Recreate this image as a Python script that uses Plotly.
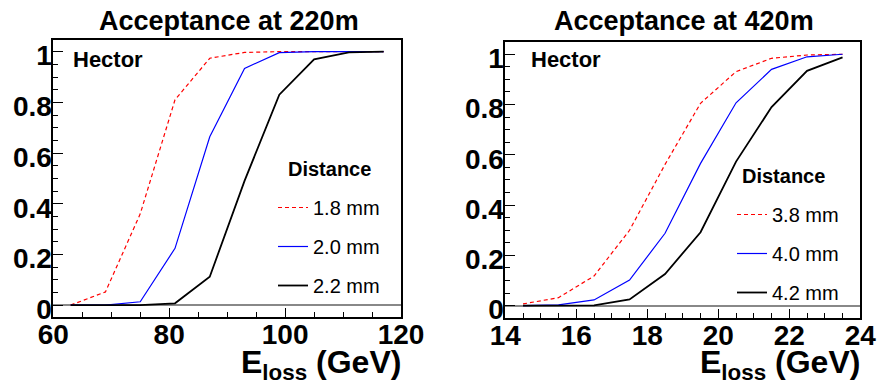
import plotly.graph_objects as go

W, H = 877, 383

# ---- data ----
e220 = [63, 69, 75, 81, 87, 93, 99, 105, 111, 117]
acc220_18 = [0.0, 0.052, 0.36, 0.81, 0.974, 0.997, 1.0, 1.0, 1.0, 1.0]
acc220_20 = [0.0, 0.0, 0.013, 0.224, 0.664, 0.934, 0.996, 1.0, 1.0, 1.0]
acc220_22 = [0.0, 0.0, 0.0, 0.007, 0.112, 0.49, 0.83, 0.97, 0.997, 1.0]

e420 = [14.5, 15.5, 16.5, 17.5, 18.5, 19.5, 20.5, 21.5, 22.5, 23.5]
acc420_38 = [0.007, 0.032, 0.118, 0.30, 0.562, 0.805, 0.931, 0.984, 0.997, 1.0]
acc420_40 = [0.0, 0.003, 0.023, 0.102, 0.288, 0.566, 0.807, 0.94, 0.99, 1.0]
acc420_42 = [0.0, 0.0, 0.001, 0.025, 0.126, 0.292, 0.573, 0.79, 0.934, 0.988]

labels220 = ["1.8 mm", "2.0 mm", "2.2 mm"]
labels420 = ["3.8 mm", "4.0 mm", "4.2 mm"]
titles = ["Acceptance at 220m", "Acceptance at 420m"]

FONT = "Liberation Sans"
styles = [dict(color="#ff0000", width=1.2, dash="4px,3px"),
          dict(color="#0000ff", width=1.2),
          dict(color="#000000", width=1.8)]

def px(x):
    return x / W

def py(y):
    return 1 - y / H

fig = go.Figure()

for i, (ys, lab) in enumerate(zip([acc220_18, acc220_20, acc220_22], labels220)):
    fig.add_trace(go.Scatter(x=e220, y=ys, mode="lines", name=lab, line=styles[i],
                             xaxis="x", yaxis="y", legend="legend",
                             legendgroup="a%d" % i))
for i, (ys, lab) in enumerate(zip([acc420_38, acc420_40, acc420_42], labels420)):
    fig.add_trace(go.Scatter(x=e420, y=ys, mode="lines", name=lab, line=styles[i],
                             xaxis="x2", yaxis="y2", legend="legend2",
                             legendgroup="b%d" % i))

tickfont = dict(family=FONT, size=28, color="black", weight="bold")

def xax(domain, rng, dtick, minor):
    return dict(domain=domain, range=rng, dtick=dtick, tick0=0, showline=True, mirror=True,
                linecolor="black", linewidth=1.5, ticks="inside", ticklen=9, tickwidth=1,
                tickcolor="black", showgrid=False, zeroline=False, tickfont=tickfont,
                automargin=False, ticklabelstandoff=-8,
                minor=dict(dtick=minor, ticks="inside", ticklen=5, tickcolor="black", showgrid=False))

def yax(domain, rng, anchor):
    return dict(domain=domain, range=rng, dtick=0.2, tick0=0, showline=True, mirror=True,
                linecolor="black", linewidth=1.5, ticks="inside", ticklen=10, tickwidth=1,
                tickcolor="black", showgrid=False, zeroline=True, zerolinecolor="#888888",
                zerolinewidth=1.5, tickfont=tickfont, anchor=anchor, automargin=False,
                ticklabelstandoff=-6, ticklabelshift=4,
                minor=dict(dtick=0.05, ticks="inside", ticklen=5, tickcolor="black", showgrid=False))

legfont = dict(family=FONT, size=20, color="black")

fig.update_layout(
    width=W, height=H, margin=dict(l=0, r=0, t=0, b=0),
    paper_bgcolor="white", plot_bgcolor="white",
    xaxis=xax([px(53.3), px(401)], [60, 120], 20, 5) | dict(anchor="y"),
    yaxis=yax([py(317), py(40)], [-0.047, 1.046], "x"),
    xaxis2=xax([px(505.3), px(860.3)], [14, 24], 2, 0.5) | dict(anchor="y2"),
    yaxis2=yax([py(318), py(41.7)], [-0.049, 1.050], "x2"),
    legend=dict(x=px(273), y=py(188), xanchor="left", yanchor="top", bgcolor="rgba(0,0,0,0)",
                font=legfont, tracegroupgap=10, borderwidth=0),
    legend2=dict(x=px(732), y=py(195), xanchor="left", yanchor="top", bgcolor="rgba(0,0,0,0)",
                 font=legfont, tracegroupgap=10, borderwidth=0),
    showlegend=True,
)

anns = []
for t, cx in zip(titles, [229, 683.5]):
    anns.append(dict(text=t, x=px(cx), y=py(21), xref="paper", yref="paper",
                     xanchor="center", yanchor="middle", showarrow=False,
                     font=dict(family=FONT, size=27, color="black", weight="bold")))
for lx in [71, 529]:
    anns.append(dict(text="Hector", x=px(lx), y=py(59), xref="paper", yref="paper",
                     xanchor="left", yanchor="middle", showarrow=False,
                     font=dict(family=FONT, size=22, color="black", weight="bold")))
for lx, ly in [(286, 169), (740, 176)]:
    anns.append(dict(text="Distance", x=px(lx), y=py(ly), xref="paper", yref="paper",
                     xanchor="left", yanchor="middle", showarrow=False,
                     font=dict(family=FONT, size=20, color="black", weight="bold")))
for rx in [403, 862]:
    anns.append(dict(text="E<sub>loss</sub> (GeV)", x=px(rx), y=py(364), xref="paper", yref="paper",
                     xanchor="right", yanchor="middle", showarrow=False,
                     font=dict(family=FONT, size=32, color="black", weight="bold")))
fig.update_layout(annotations=anns)

fig.write_html("out.html")
